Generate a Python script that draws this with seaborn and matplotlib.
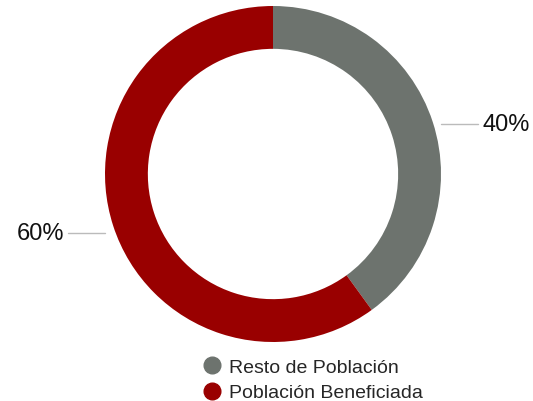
import numpy as np
import matplotlib
matplotlib.use("Agg")
import matplotlib.pyplot as plt
from matplotlib.lines import Line2D
import seaborn as sns

# datos del gráfico
categorias = ["Resto de Población", "Población Beneficiada"]
valores = [40, 60]
etiquetas = ["40%", "60%"]
colores = ["#6d736e", "#990000"]

sns.set_theme(style="white")
plt.rcParams["font.family"] = ["Liberation Sans", "DejaVu Sans"]

fig = plt.figure(figsize=(5.33, 4.02), dpi=100)
ax = fig.add_axes([105 / 533, 59 / 402, 336 / 533, 336 / 402])

wedges, _ = ax.pie(valores, colors=colores, startangle=90, counterclock=False,
                   radius=1.0, wedgeprops=dict(width=0.255, linewidth=0))
ax.set_xlim(-1, 1)
ax.set_ylim(-1, 1)
ax.set_aspect("equal")
ax.axis("off")

# etiquetas con líneas guía
y_lab = [0.30, -0.35]
for w, txt, y in zip(wedges, etiquetas, y_lab):
    mid = np.deg2rad((w.theta1 + w.theta2) / 2)
    lado = 1 if np.cos(mid) > 0 else -1
    ax.plot([lado * 1.0, lado * 1.22], [y, y], color="#bbbbbb", lw=1, clip_on=False)
    ax.text(lado * 1.245, y, txt, ha="left" if lado > 0 else "right", va="center",
            fontsize=17, color="#111111", clip_on=False)

handles = [Line2D([0], [0], marker="o", linestyle="none", markersize=12,
                  markerfacecolor=c, markeredgecolor=c) for c in colores]
fig.legend(handles, categorias, loc="upper left", bbox_to_anchor=(200 / 533, 1 - 359 / 402),
           frameon=False, fontsize=14, labelspacing=0.42, handletextpad=0.3,
           borderpad=0, borderaxespad=0, handlelength=1.2)

fig.savefig("out.png", dpi=100)
